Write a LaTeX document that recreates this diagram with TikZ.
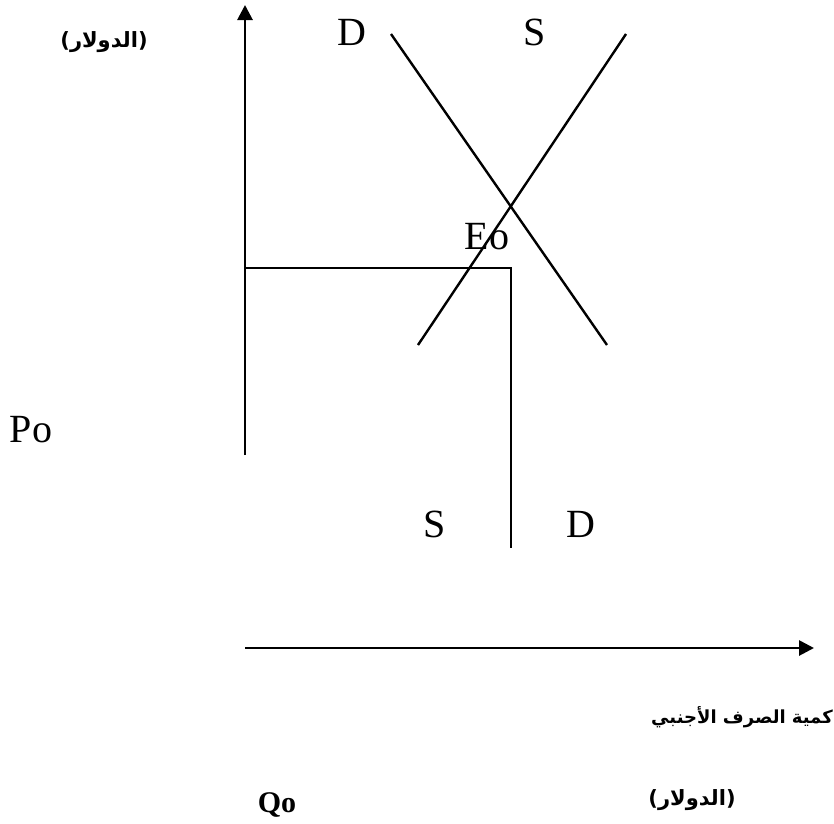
\documentclass[tikz,border=0pt]{standalone}
\usepackage{fontspec}
\setmainfont{Liberation Serif}
\newfontfamily\arabicfont[Script=Arabic]{DejaVu Sans}
\TeXXeTstate=1
\usetikzlibrary{arrows.meta}
\begin{document}
\begin{tikzpicture}[x=1pt,y=-1pt,
  axis/.style={line width=2.8pt,-{Triangle[length=15pt,width=15pt]}},
  curve/.style={line width=2.4pt},
  guide/.style={line width=2.4pt},
  lbl/.style={anchor=base,inner sep=0pt,font=\fontsize{40}{42}\selectfont},
  arlbl/.style={inner sep=0pt,font=\arabicfont\bfseries\fontsize{21}{24}\selectfont},
  arlblb/.style={inner sep=0pt,font=\arabicfont\bfseries\fontsize{18}{22}\selectfont},
  qlbl/.style={anchor=base,inner sep=0pt,font=\bfseries\fontsize{30}{32}\selectfont}]
\useasboundingbox (0,0) rectangle (834,823);
% axes
\coordinate (ybot) at (245,455);
\coordinate (ytop) at (245,5);
\coordinate (xl) at (245,648);
\coordinate (xr) at (814,648);
\draw[axis] (ybot) -- (ytop);
\draw[axis] (xl) -- (xr);
% curves
\coordinate (Dtop) at (391,34);
\coordinate (Dbot) at (607,345);
\coordinate (Stop) at (626,34);
\coordinate (Sbot) at (418,345);
\draw[curve] (Dtop) -- (Dbot);
\draw[curve] (Sbot) -- (Stop);
% guide lines
\coordinate (gl) at (245,268);
\coordinate (gc) at (511,268);
\coordinate (gb) at (511,548);
\draw[guide] (gl) -- (gc) -- (gb);
% labels
\node[lbl] (D1) at (352,45) {D};
\node[lbl] (S1) at (535,45) {S};
\node[lbl] (Eo) at (487,249) {Eo};
\node[lbl] (Po) at (31,442) {Po};
\node[lbl] (S2) at (435,537) {S};
\node[lbl] (D2) at (581,537) {D};
\node[qlbl] (Qo) at (277,812) {Qo};
\node[arlbl] (ar1) at (104,42) {\beginR(الدولار)\endR};
\node[arlblb] (ar2) at (742,717) {\beginR كمية الصرف الأجنبي\endR};
\node[arlbl] (ar3) at (692,800) {\beginR(الدولار)\endR};
\end{tikzpicture}
\end{document}
